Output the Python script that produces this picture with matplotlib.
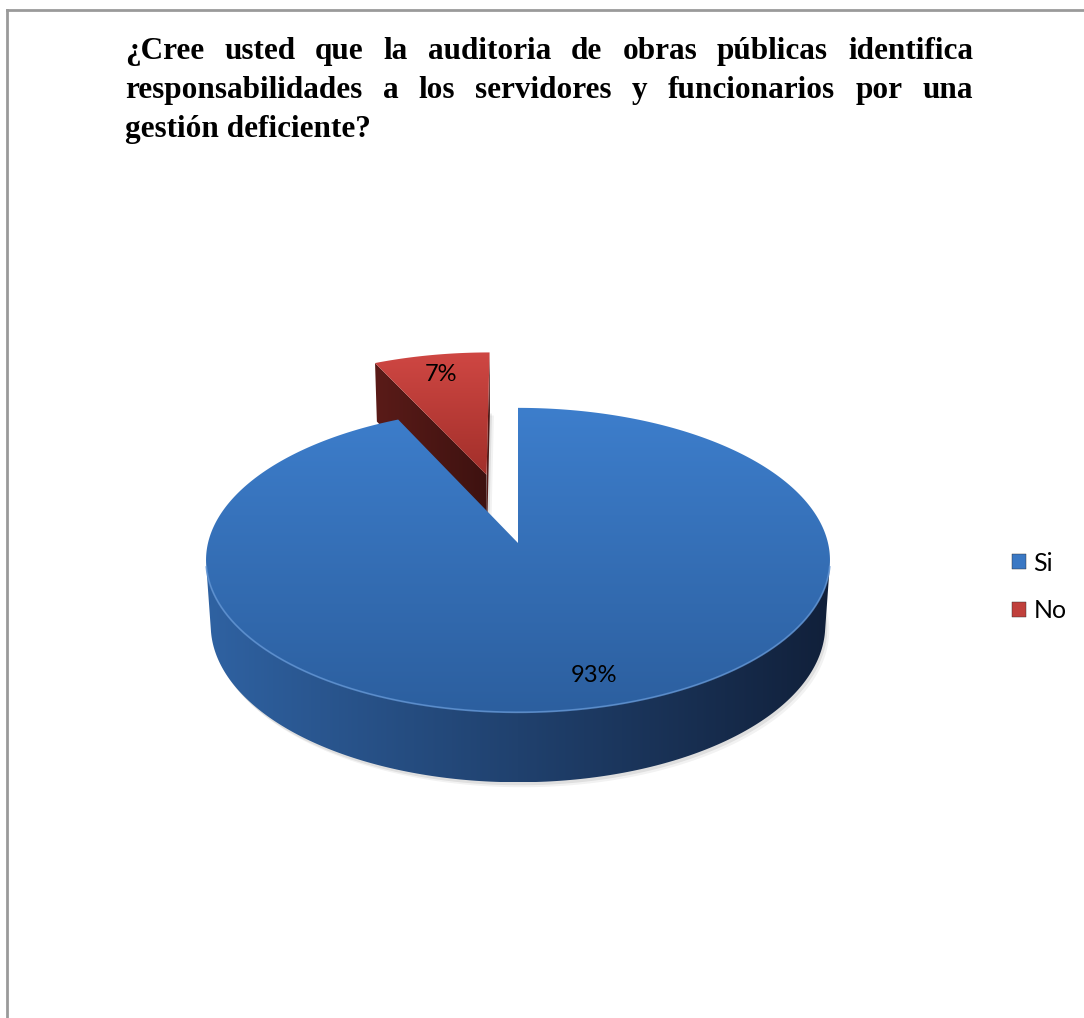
import numpy as np
import matplotlib
matplotlib.use("Agg")
import matplotlib.pyplot as plt
from matplotlib.patches import Polygon, Patch
from matplotlib.lines import Line2D
from matplotlib.colors import to_rgb

# ---------------- data ----------------
categories = ["Si", "No"]
values = [93, 7]
value_labels = ["93%", "7%"]
explode = [0.0, 0.49]
title_lines = ["¿Cree usted que la auditoria de obras públicas identifica",
               "responsabilidades a los servidores y funcionarios por una",
               "gestión deficiente?"]

# ---------------- style ----------------
top_colors = {"Si": ("#3d7ecc", "#2c5f9f"), "No": ("#cf4743", "#a22f2a")}
side_colors = {"Si": ("#2f62a2", "#11203a"), "No": ("#5a1b18", "#3e1210")}
face_colors = {"Si": ("#1e3b62", "#1e3b62"), "No": ("#5a1b18", "#3e1210")}
legend_colors = {"Si": "#3a78c4", "No": "#c0403c"}

W, H = 1084, 1018
fig = plt.figure(figsize=(W / 100, H / 100), dpi=100)
ax = fig.add_axes([0, 0, 1, 1])
ax.axis("off")

# ---------------- 3D projection (layout) ----------------
CX, CY = 518, 543
PHI = np.radians(29)
DIST = 7.8
FOC = 2418
THICK = 0.2425
CAM = np.array([0.0, -DIST * np.cos(PHI), DIST * np.sin(PHI)])


def proj(x, y, z):
    x = np.asarray(x, float); y = np.asarray(y, float); z = np.asarray(z, float)
    d = DIST + y * np.cos(PHI) - z * np.sin(PHI)
    u = y * np.sin(PHI) + z * np.cos(PHI)
    return CX + FOC * x / d, CY - FOC * u / d


def grad_fill(xy, c1, c2, direction="v", zorder=2):
    xy = np.asarray(xy)
    patch = Polygon(xy, closed=True, facecolor="none", edgecolor="none", zorder=zorder)
    ax.add_patch(patch)
    x0, x1 = xy[:, 0].min(), xy[:, 0].max()
    y0, y1 = xy[:, 1].min(), xy[:, 1].max()
    t = np.linspace(0, 1, 256)
    a = np.array(to_rgb(c1)); b = np.array(to_rgb(c2))
    cols = a[None, :] * (1 - t[:, None]) + b[None, :] * t[:, None]
    img = cols[:, None, :] if direction == "v" else cols[None, :, :]
    im = ax.imshow(img, extent=(x0, x1, y1, y0), origin="upper", aspect="auto",
                   interpolation="bilinear", zorder=zorder)
    im.set_clip_path(patch)


# wedge angles: start at 12 o'clock, clockwise
total = float(sum(values))
wedges = []
start = 90.0
for cat, v, e, lab in zip(categories, values, explode, value_labels):
    sweep = 360.0 * v / total
    t1, t2 = start - sweep, start
    mid = np.radians((t1 + t2) / 2)
    wedges.append(dict(cat=cat, t1=np.radians(t1), t2=np.radians(t2), mid=mid,
                       ox=e * np.cos(mid), oy=e * np.sin(mid), label=lab))
    start = t1

# draw far wedges first
order = sorted(range(len(wedges)), key=lambda i: -wedges[i]["oy"])
z = 2
for i in order:
    w = wedges[i]
    ox, oy = w["ox"], w["oy"]
    cat = w["cat"]
    th = np.linspace(w["t1"], w["t2"], 400)

    # shadow (soft)
    for dx, dy, al in [(2, 3, 0.08), (4, 5, 0.05)]:
        sx, sy = proj(ox + np.cos(th), oy + np.sin(th), -THICK)
        ax_x, ax_y = proj(ox, oy, -THICK)
        pts = np.column_stack([np.r_[ax_x, sx], np.r_[ax_y, sy]]) + [dx, dy]
        ax.add_patch(Polygon(pts, closed=True, facecolor="black", alpha=al,
                             edgecolor="none", zorder=z))
    z += 1

    # radial faces
    for t, n in [(w["t1"], np.array([np.sin(w["t1"]), -np.cos(w["t1"]), 0.0])),
                 (w["t2"], np.array([-np.sin(w["t2"]), np.cos(w["t2"]), 0.0]))]:
        P = np.array([ox, oy, 0.0])
        if np.dot(CAM - P, n) > 0.05:
            xs = [ox, ox + np.cos(t), ox + np.cos(t), ox]
            ys = [oy, oy + np.sin(t), oy + np.sin(t), oy]
            zs = [0, 0, -THICK, -THICK]
            px, py = proj(xs, ys, zs)
            grad_fill(np.column_stack([px, py]), *face_colors[cat], direction="h", zorder=z)
            z += 1

    # outer curved side (visible part)
    vis = (-ox * np.cos(th) - 1 - (DIST * np.cos(PHI) + oy) * np.sin(th)) > 0
    if vis.any():
        idx = np.where(vis)[0]
        runs = np.split(idx, np.where(np.diff(idx) > 1)[0] + 1)
        for r in runs:
            tt = th[r]
            tx, ty = proj(ox + np.cos(tt), oy + np.sin(tt), 0 * tt)
            bx, by = proj(ox + np.cos(tt), oy + np.sin(tt), 0 * tt - THICK)
            pts = np.column_stack([np.r_[tx, bx[::-1]], np.r_[ty, by[::-1]]])
            grad_fill(pts, *side_colors[cat], direction="h", zorder=z)
            z += 1

    # top face
    tx, ty = proj(ox + np.cos(th), oy + np.sin(th), 0 * th)
    apx, apy = proj(ox, oy, 0)
    pts = np.column_stack([np.r_[apx, tx], np.r_[apy, ty]])
    grad_fill(pts, *top_colors[cat], direction="v", zorder=z)
    z += 1
    if vis.any():
        ax.plot(tx[vis], ty[vis], color="#5f93d3", lw=1.3, alpha=0.8, zorder=z)
        z += 1

# data labels
for w in wedges:
    r = 0.82
    lx, ly = proj(w["ox"] + r * np.cos(w["mid"]), w["oy"] + r * np.sin(w["mid"]), 0)
    if w["cat"] == "Si":
        lx += 15
    ax.text(lx, ly, w["label"], ha="center", va="center", fontsize=17,
            family=["Lato", "DejaVu Sans"], color="black", zorder=100)

# legend
handles = [Patch(facecolor=legend_colors[c], edgecolor="#2a2a2a", linewidth=0.3, label=c)
           for c in categories]
fig.legend(handles=handles, loc="center left", bbox_to_anchor=(1012 / W, 1 - 587 / H),
           frameon=False, prop={"family": ["Lato", "DejaVu Sans"], "size": 18},
           handlelength=0.55, handleheight=0.55, handletextpad=0.3, labelspacing=0.98,
           borderpad=0, borderaxespad=0)

# title (justified)
fig.canvas.draw()
renderer = fig.canvas.get_renderer()
tfont = dict(family=["Liberation Serif", "DejaVu Serif"], weight="bold", fontsize=22.5)
LEFT, RIGHT = 125, 973
baselines = [59, 98, 137]
for li, (line, yb) in enumerate(zip(title_lines, baselines)):
    if li < len(title_lines) - 1:
        words = line.split(" ")
        widths = []
        for wd in words:
            t = ax.text(0, 0, wd, **tfont)
            bb = t.get_window_extent(renderer)
            widths.append(bb.width)
            t.remove()
        gap = (RIGHT - LEFT - sum(widths)) / (len(words) - 1)
        x = LEFT
        for wd, wdt in zip(words, widths):
            ax.text(x, yb, wd, ha="left", va="baseline", **tfont)
            x += wdt + gap
    else:
        ax.text(LEFT, yb, line, ha="left", va="baseline", **tfont)

# frame lines (border of chart area)
fig.add_artist(Line2D([7 / W, 7 / W], [0, 1 - 10 / H], color="#9a9a9a", lw=2))
fig.add_artist(Line2D([7 / W, 1], [1 - 10 / H, 1 - 10 / H], color="#9a9a9a", lw=2))

ax.set_xlim(0, W)
ax.set_ylim(H, 0)
fig.savefig("out.png", dpi=100, facecolor="white")
